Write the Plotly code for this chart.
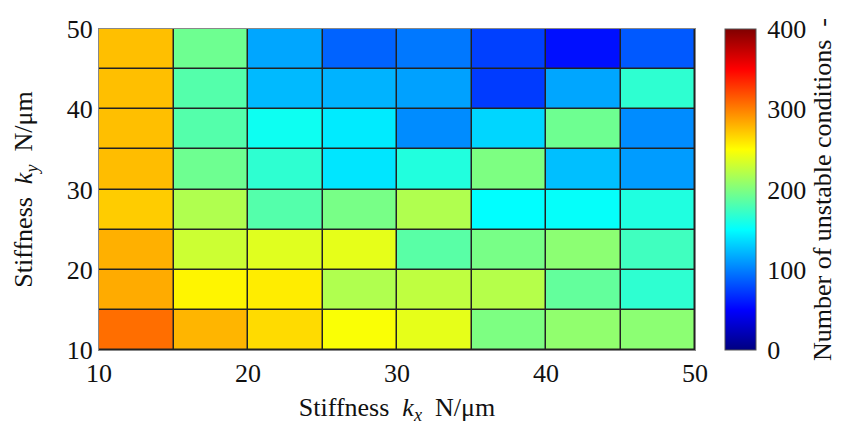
import plotly.graph_objects as go

kx_edges = [10, 15, 20, 25, 30, 35, 40, 45, 50]
ky_edges = [10, 15, 20, 25, 30, 35, 40, 45, 50]

# rows from ky=10-15 (bottom) to ky=45-50 (top)
row_10_15 = [307, 279, 264, 248, 240, 199, 207, 205]
row_15_20 = [283, 254, 257, 219, 225, 221, 189, 168]
row_20_25 = [281, 230, 238, 240, 185, 197, 205, 175]
row_25_30 = [270, 219, 183, 197, 219, 150, 152, 162]
row_30_35 = [276, 193, 168, 140, 163, 199, 125, 111]
row_35_40 = [275, 183, 155, 142, 105, 134, 193, 105]
row_40_45 = [275, 183, 123, 120, 113, 73, 115, 168]
row_45_50 = [275, 193, 115, 89, 97, 75, 56, 85]

z = [row_10_15, row_15_20, row_20_25, row_25_30,
     row_30_35, row_35_40, row_40_45, row_45_50]

tick_vals = [10, 20, 30, 40, 50]
cbar_ticks = [0, 100, 200, 300, 400]

jet = [[0.0, "rgb(0,0,128)"], [0.125, "rgb(0,0,255)"], [0.375, "rgb(0,255,255)"],
       [0.625, "rgb(255,255,0)"], [0.875, "rgb(255,0,0)"], [1.0, "rgb(128,0,0)"]]

font_family = "Liberation Serif, Times New Roman, serif"
fs = 26
nb = "\u00a0"

fig = go.Figure(go.Heatmap(
    x=kx_edges, y=ky_edges, z=z,
    zmin=0, zmax=400, colorscale=jet,
    xgap=1.5, ygap=1.5,
    colorbar=dict(
        x=1.051, xanchor="left", xref="paper", xpad=0, ypad=0,
        y=0.5, yanchor="middle", len=1.0, lenmode="fraction",
        thickness=31, thicknessmode="pixels",
        outlinewidth=1, outlinecolor="#555",
        tickvals=cbar_ticks, ticks="outside", ticklen=6, tickcolor="rgba(0,0,0,0)",
        tickfont=dict(family=font_family, size=fs, color="#111"),
        title=dict(text="Number of unstable conditions" + nb * 2 + "-",
                   side="right",
                   font=dict(family=font_family, size=fs, color="#111")),
    ),
))

fig.update_layout(
    width=845, height=427,
    margin=dict(l=99, r=150, t=29, b=77, autoexpand=False),
    paper_bgcolor="white", plot_bgcolor="#222",
    font=dict(family=font_family, color="#111"),
    xaxis=dict(
        range=[10, 50], tickvals=tick_vals, showgrid=False, zeroline=False,
        showline=True, mirror=True, linecolor="#888", linewidth=1,
        ticks="", tickfont=dict(family=font_family, size=fs),
        title=dict(text="Stiffness" + nb * 2 + "<i>k</i><sub><i>x</i></sub>" + nb * 2 + "N/μm",
                   font=dict(family=font_family, size=fs), standoff=10),
    ),
    yaxis=dict(
        range=[10, 50], tickvals=tick_vals, showgrid=False, zeroline=False,
        showline=True, mirror=True, linecolor="#888", linewidth=1,
        ticks="", tickfont=dict(family=font_family, size=fs),
        title=dict(text="Stiffness" + nb * 2 + "<i>k</i><sub><i>y</i></sub>" + nb * 2 + "N/μm",
                   font=dict(family=font_family, size=fs), standoff=26),
    ),
)

fig.write_html("out.html")
